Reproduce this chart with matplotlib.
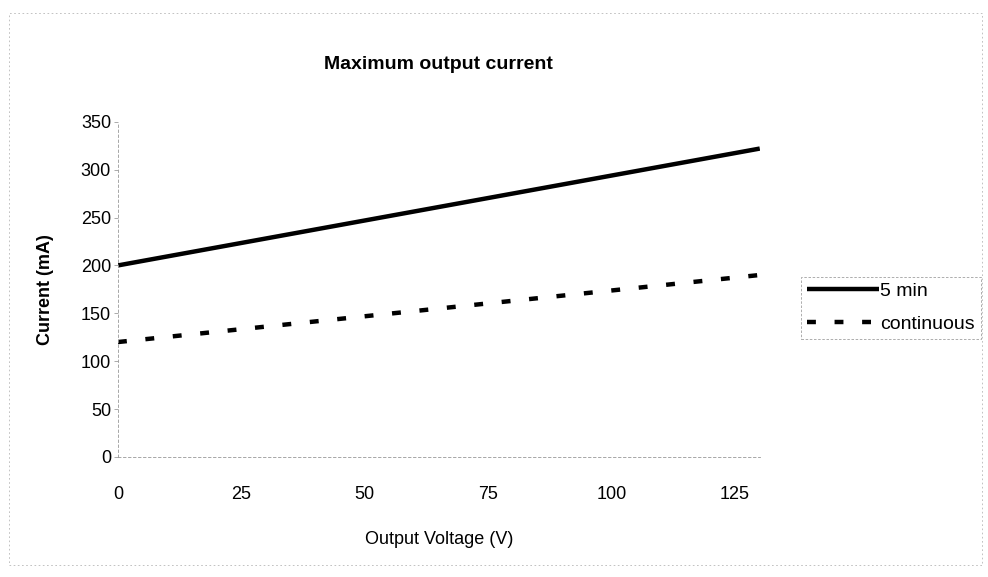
import matplotlib.pyplot as plt
from matplotlib.patches import Rectangle

# Values
voltage = [0, 130]                 # V
current_5min = [200, 322]          # mA
current_continuous = [120, 190]    # mA
x_ticks = [0, 25, 50, 75, 100, 125]
y_ticks = [0, 50, 100, 150, 200, 250, 300, 350]

plt.rcParams['font.family'] = ['Liberation Sans', 'DejaVu Sans']

fig = plt.figure(figsize=(9.88, 5.77), dpi=100)
ax = fig.add_axes([0.1194, 0.208, 0.6496, 0.581])

# faint outer chart frame, as in the scan
fig.patches.append(Rectangle((0.009, 0.02), 0.985, 0.958, transform=fig.transFigure,
                             fill=False, ec='#b8b8b8', lw=0.6, ls=(0, (2, 3))))

ax.plot(voltage, current_5min, color='black', lw=3.2, solid_capstyle='butt', label='5 min')
ax.plot(voltage, current_continuous, color='black', lw=3.2,
        dashes=(2.0, 4.2), dash_capstyle='butt', label='continuous')

ax.set_xlim(0, 130)
ax.set_ylim(0, 350)
ax.set_xticks(x_ticks)
ax.set_yticks(y_ticks)
ax.tick_params(axis='both', labelsize=13, length=3, width=0.5, color='#888888')
ax.tick_params(axis='y', pad=2)
ax.tick_params(axis='x', pad=21, length=0)

for side in ['top', 'right']:
    ax.spines[side].set_visible(False)
for side in ['left', 'bottom']:
    ax.spines[side].set_color('#999999')
    ax.spines[side].set_linewidth(0.6)
    ax.spines[side].set_linestyle((0, (3, 3)))

ax.set_title('Maximum output current', fontsize=14, fontweight='bold', pad=38)
ax.set_xlabel('Output Voltage (V)', fontsize=13, labelpad=20)
ax.set_ylabel('Current (mA)', fontsize=13, fontweight='bold', labelpad=19)

leg = ax.legend(loc='center left', bbox_to_anchor=(1.065, 0.445), fontsize=14,
                handlelength=3.7, handletextpad=0.05, borderpad=0.3,
                labelspacing=0.8, fancybox=False, frameon=True, borderaxespad=0)
leg.get_frame().set_edgecolor('#888888')
leg.get_frame().set_linewidth(0.6)
leg.get_frame().set_linestyle((0, (3, 2)))

fig.savefig('out.png', dpi=100)
